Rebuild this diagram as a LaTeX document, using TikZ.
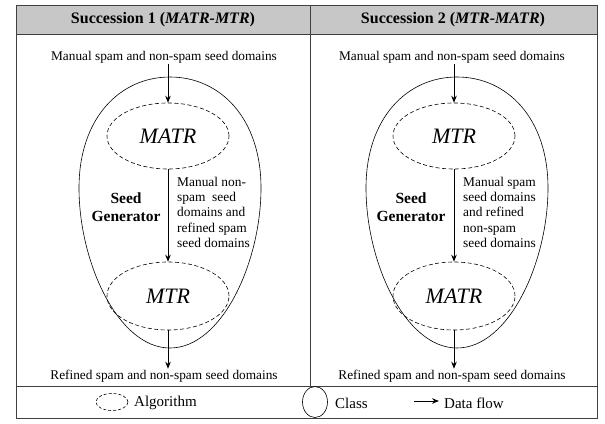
\documentclass[tikz,border=0pt]{standalone}
\usepackage{fontspec}
\setmainfont{Liberation Serif}
\usetikzlibrary{shapes.geometric,arrows.meta}
\tikzset{
  frameline/.style={draw=black!75, line width=0.9pt},
  alg/.style={ellipse, draw, dashed, dash pattern=on 4pt off 2.5pt, line width=0.6pt, inner sep=0pt, font=\fontsize{22}{25}\selectfont\itshape},
  cls/.style={draw, line width=0.6pt},
  flow/.style={line width=0.7pt, -{Stealth[length=7pt,width=5.5pt]}},
  txt/.style={font=\fontsize{13.3}{15}\selectfont, inner sep=1pt},
  legtxt/.style={font=\fontsize{15}{17}\selectfont, inner sep=1pt, anchor=west},
  side/.style={font=\fontsize{13.4}{15.2}\selectfont, align=left, inner sep=0pt, anchor=north west},
  seedlbl/.style={font=\fontsize{15.5}{18}\selectfont\bfseries, align=center},
  head/.style={font=\fontsize{16}{18}\selectfont\bfseries},
}
\newcommand{\eggpath}{(0,77) .. controls (50,77) and (91,118) .. (91,188) .. controls (91,262) and (52,348) .. (0,348) .. controls (-52,348) and (-91,262) .. (-91,188) .. controls (-91,118) and (-50,77) .. (0,77) -- cycle}
\begin{document}
\begin{tikzpicture}[x=1pt,y=-1pt]
\useasboundingbox (0,0) rectangle (605,423);
% header
\fill[black!22] (16,5) rectangle (597,34);
\draw[frameline] (16,5) rectangle (597,418);
\draw[frameline] (16,34) -- (597,34);
\draw[frameline] (16,386) -- (597,386);
\draw[frameline] (310,5) -- (310,386);
\node[head] (h1) at (163,20) {Succession 1 (\textit{MATR-MTR})};
\node[head] (h2) at (453,20) {Succession 2 (\textit{MTR-MATR})};

% left panel
\begin{scope}[xshift=170pt]
\draw[cls] \eggpath;
\end{scope}
\node[txt] (t1) at (164,57) {Manual spam and non-spam seed domains};
\node[alg, minimum width=122pt, minimum height=66pt] (a1) at (168,136) {MATR};
\node[alg, minimum width=122pt, minimum height=68pt] (b1) at (168,296) {MTR};
\node[txt] (r1) at (164,376) {Refined spam and non-spam seed domains};
\node[seedlbl] (s1) at (126,207) {Seed\\Generator};
\node[side] (d1) at (177,177) {Manual non-\\spam\ \ seed\\domains and\\refined spam\\seed domains};
\draw[flow] (t1.south -| a1.north) -- (a1.north);
\draw[flow] (a1.south) -- (b1.north);
\draw[flow] (b1.south) -- (r1.north -| b1.south);

% right panel
\begin{scope}[xshift=457pt]
\draw[cls] \eggpath;
\end{scope}
\node[txt] (t2) at (452,57) {Manual spam and non-spam seed domains};
\node[alg, minimum width=122pt, minimum height=66pt] (a2) at (454,136) {MTR};
\node[alg, minimum width=122pt, minimum height=68pt] (b2) at (454,296) {MATR};
\node[txt] (r2) at (452,376) {Refined spam and non-spam seed domains};
\node[seedlbl] (s2) at (411,207) {Seed\\Generator};
\node[side] (d2) at (463,177) {Manual spam\\seed domains\\and refined\\non-spam\\seed domains};
\draw[flow] (t2.south -| a2.north) -- (a2.north);
\draw[flow] (a2.south) -- (b2.north);
\draw[flow] (b2.south) -- (r2.north -| b2.south);

% legend
\node[ellipse, draw, dashed, dash pattern=on 3pt off 2pt, line width=0.6pt, minimum width=32pt, minimum height=17pt, inner sep=0pt] (la) at (112,402) {};
\node[legtxt] (lat) at (133,403) {Algorithm};
\node[ellipse, cls, minimum width=25pt, minimum height=31pt, inner sep=0pt] (lc) at (315,402) {};
\node[legtxt] (lct) at (334,403) {Class};
\coordinate (lf0) at (414,401);
\coordinate (lf1) at (439,401);
\draw[flow, line width=1pt] (lf0) -- (lf1);
\node[legtxt] (lft) at (443,403) {Data flow};
\end{tikzpicture}
\end{document}
